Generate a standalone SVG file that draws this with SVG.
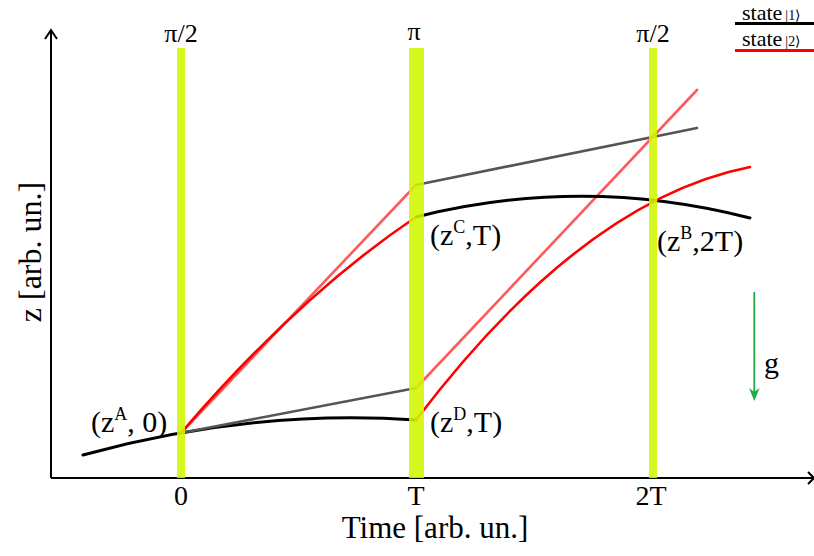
<svg xmlns="http://www.w3.org/2000/svg" width="814" height="556" viewBox="0 0 814 556">
<style>
text{font-family:"Liberation Serif","Times New Roman",serif;fill:#000}
.lbl{font-size:30px}
.tick{font-size:28px}
.pulse{font-size:26px}
.sup{font-size:18px}
.leg{font-size:22px}
.ket{font-size:14px}
.ax{stroke:#000;stroke-width:2;fill:none}
.blk{stroke:#000;stroke-width:3;fill:none;stroke-linecap:round}
.red{stroke:#ff0000;stroke-width:2.6;fill:none;stroke-linecap:round}
.gry{stroke:#555;stroke-width:2.6;fill:none;stroke-linecap:round}
.lred{stroke:#ff5a5a;stroke-width:2.6;fill:none;stroke-linecap:round}
.bar{fill:#d2f700;opacity:0.88}
</style>
<g id="axes">
<line class="ax" x1="51" y1="478" x2="51" y2="31"/>
<polyline class="ax" points="45,39 51,30 57,39"/>
<line class="ax" x1="51" y1="478" x2="813" y2="478"/>
<polyline class="ax" points="808,472 814,478 808,484"/>
<text x="30" y="252" text-anchor="middle" transform="rotate(-90 30 252)" style="font-size:32px" dy="11">z [arb. un.]</text>
<text x="435" y="538" text-anchor="middle" style="font-size:31px">Time [arb. un.]</text>
<text class="tick" x="181" y="505" text-anchor="middle">0</text>
<text class="tick" x="416" y="505" text-anchor="middle">T</text>
<text class="tick" x="651" y="505" text-anchor="middle">2T</text>
</g>
<g id="connectors">
<path class="blk" d="M83,455 Q249.5,408.9 416,420"/>
<line class="gry" x1="181" y1="433" x2="416" y2="388"/>
<line class="lred" x1="181" y1="433" x2="416" y2="185"/>
<path class="red" d="M181,433 Q298.5,296 416,217"/>
<line class="gry" x1="416" y1="185" x2="697" y2="128"/>
<line class="lred" x1="416" y1="388" x2="697" y2="90"/>
<path class="blk" d="M416,217 Q583,175 750,218"/>
<path class="red" d="M416,420 Q583,200 750,167"/>
</g>
<g id="pulse1">
<rect class="bar" x="177" y="48" width="8" height="430"/>
<text class="pulse" x="181" y="42" text-anchor="middle">π/2</text>
</g>
<g id="pulse2">
<rect class="bar" x="409" y="48" width="15" height="430"/>
<text class="pulse" x="414" y="40" text-anchor="middle">π</text>
</g>
<g id="pulse3">
<rect class="bar" x="649" y="48" width="8" height="430"/>
<text class="pulse" x="653" y="42" text-anchor="middle">π/2</text>
</g>
<g id="pointA"><text class="lbl" x="91" y="432">(z<tspan class="sup" dy="-12">A</tspan><tspan dy="12">, 0)</tspan></text></g>
<g id="pointC"><text class="lbl" x="430" y="245">(z<tspan class="sup" dy="-12">C</tspan><tspan dy="12">,T)</tspan></text></g>
<g id="pointD"><text class="lbl" x="430" y="432">(z<tspan class="sup" dy="-12">D</tspan><tspan dy="12">,T)</tspan></text></g>
<g id="pointB"><text class="lbl" x="657" y="251">(z<tspan class="sup" dy="-12">B</tspan><tspan dy="12">,2T)</tspan></text></g>
<g id="gravity">
<line x1="754.3" y1="292" x2="754.3" y2="396" stroke="#22aa44" stroke-width="1.8"/>
<path d="M749,388 L754.3,401 L759.6,388 L754.3,392 Z" fill="#22aa44"/>
<text class="lbl" x="764" y="373">g</text>
</g>
<g id="legend">
<text class="leg" x="742" y="20">state<tspan class="ket" dx="3">|1⟩</tspan></text>
<line x1="735" y1="23.5" x2="814" y2="23.5" stroke="#000" stroke-width="3"/>
<text class="leg" x="742" y="46">state<tspan class="ket" dx="3">|2⟩</tspan></text>
<line x1="735" y1="50.5" x2="814" y2="50.5" stroke="#ff0000" stroke-width="3"/>
</g>
</svg>
